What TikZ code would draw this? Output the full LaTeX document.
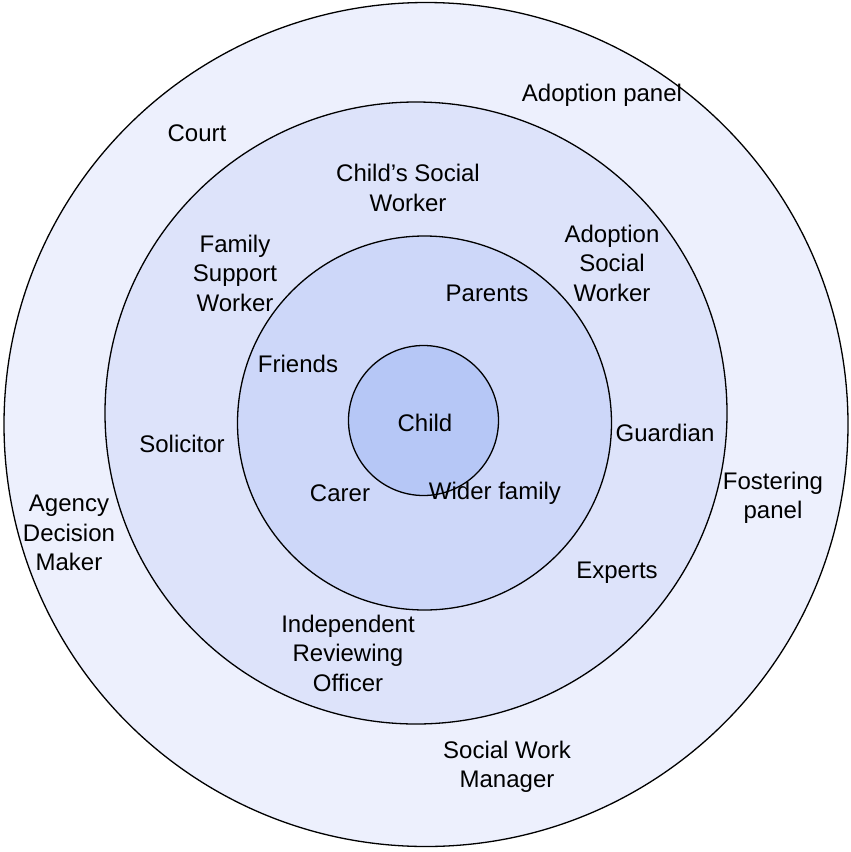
\documentclass[tikz,border=0pt]{standalone}
\usepackage{fontspec}
\setmainfont{Liberation Sans}
\definecolor{ringA}{RGB}{237,240,253}
\definecolor{ringB}{RGB}{221,227,250}
\definecolor{ringC}{RGB}{205,215,249}
\definecolor{ringD}{RGB}{182,199,246}
\begin{document}
\begin{tikzpicture}[x=1pt,y=-1pt,
  ring/.style={draw=black,line width=1.3pt},
  lbl/.style={align=center,font=\fontsize{24}{29.5}\selectfont,inner sep=0pt}]
\useasboundingbox (0,0) rectangle (851,852);
\path[ring,fill=ringA] (426,424.5) circle[radius=422];
\path[ring,fill=ringB] (416,413) circle[radius=311];
\path[ring,fill=ringC] (424.5,423) circle[radius=187];
\path[ring,fill=ringD] (423.5,420.5) circle[radius=75];
\coordinate (c) at (423.5,420.5);
\node[lbl] (child) at (425,423) {Child};
\node[lbl] (adoptpanel) at (602,95) {Adoption panel};
\node[lbl] (court) at (197,133) {Court};
\node[lbl] (csw) at (408,188) {Child’s Social\\Worker};
\node[lbl] (fsw) at (235,273) {Family\\Support\\Worker};
\node[lbl] (asw) at (612,263) {Adoption\\Social\\Worker};
\node[lbl] (parents) at (487,293) {Parents};
\node[lbl] (friends) at (298,364) {Friends};
\node[lbl] (guardian) at (665,433) {Guardian};
\node[lbl] (solicitor) at (182,444) {Solicitor};
\node[lbl] (fostering) at (773,498) {Fostering\\panel};
\node[lbl] (agency) at (69,533) {Agency\\Decision\\Maker};
\node[lbl] (carer) at (340,493) {Carer};
\node[lbl] (wider) at (495,493) {Wider family};
\node[lbl] (experts) at (617,573) {Experts};
\node[lbl] (iro) at (348,653) {Independent\\Reviewing\\Officer};
\node[lbl] (swm) at (507,767) {Social Work\\Manager};
\end{tikzpicture}
\end{document}
